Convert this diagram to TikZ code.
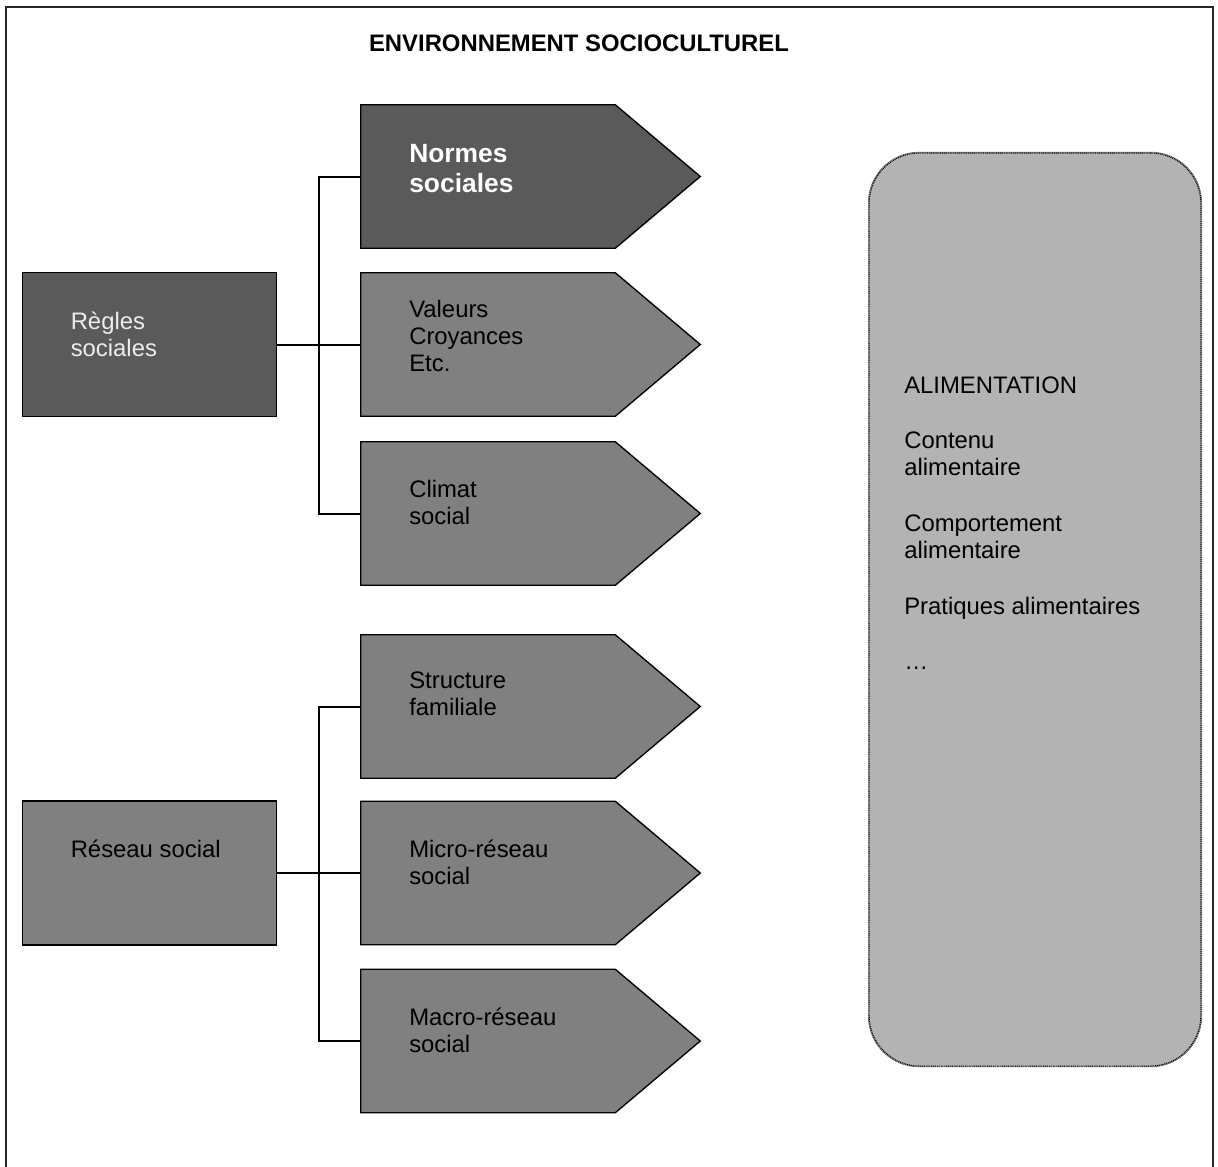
\documentclass[tikz,border=0pt]{standalone}
\usepackage{fontspec}
\setmainfont{Liberation Sans}
\usetikzlibrary{calc}
\definecolor{darkfill}{HTML}{5A5A5A}
\definecolor{midfill}{HTML}{808080}
\definecolor{lightfill}{HTML}{B3B3B3}
\begin{document}
\begin{tikzpicture}[x=0.75pt,y=-0.75pt,
  txt/.style={anchor=base west, inner sep=0pt, align=left, text=black,
    font=\fontsize{17.9}{20.25}\selectfont},
  wtxt/.style={txt, text=white!93!black},
  bigtxt/.style={anchor=base west, inner sep=0pt, align=left, text=white,
    font=\fontsize{19.8}{22.5}\selectfont\bfseries},
  body/.style={draw=none, inner sep=0pt, minimum width=190.5pt, minimum height=107.25pt},
  pent/.style={draw=black, line width=1pt, line join=miter},
  box/.style={draw=black, line width=1pt, inner sep=0pt, minimum width=190.5pt, minimum height=108pt},
  link/.style={draw=black, line width=1.5pt},
]
\useasboundingbox (0,0) rectangle (1218,1167);
% outer frame
\draw[line width=1.2pt, black!85] (6,7) rectangle (1213,1190);
\node[anchor=base, inner sep=0pt, font=\fontsize{17.9}{20}\selectfont\bfseries] (title) at (579,51) {ENVIRONNEMENT SOCIOCULTUREL};

% pentagon bodies (named nodes)
\node[body] (normes) at (488,176.5) {};
\node[body] (valeurs) at (488,344.5) {};
\node[body] (climat) at (488,513.5) {};
\node[body] (structure) at (488,706.5) {};
\node[body] (micro) at (488,873) {};
\node[body] (macro) at (488,1041) {};

\foreach \n/\c in {normes/darkfill, valeurs/midfill, climat/midfill, structure/midfill, micro/midfill, macro/midfill}{
  \filldraw[pent, fill=\c] (\n.north west) -- (\n.north east) -- ($(\n.east)+(85,0)$) -- (\n.south east) -- (\n.south west) -- cycle;
}

% left boxes
\node[box, fill=darkfill] (regles) at (149.5,344.5) {};
\node[box, fill=midfill] (reseau) at (149.5,873) {};

% alimentation box
\node[draw=black, line width=1pt, dash pattern=on 0.8pt off 0.6pt, fill=lightfill,
  rounded corners=38pt, inner sep=0pt, minimum width=249pt, minimum height=685pt] (alim) at (1035,609.5) {};
\draw[black!60, line width=0.5pt, rounded corners=38pt] (alim.north west) rectangle (alim.south east);

% texts (anchor = baseline of last line)
\node[bigtxt] (tnormes) at (409,192) {Normes\\sociales};
\node[txt] (tvaleurs) at (409,371) {Valeurs\\Croyances\\Etc.};
\node[txt] (tclimat) at (409,524.5) {Climat\\social};
\node[txt] (tstructure) at (409,715.5) {Structure\\familiale};
\node[txt] (tmicro) at (409,884) {Micro-réseau\\social};
\node[txt] (tmacro) at (409,1052) {Macro-réseau\\social};
\node[wtxt] (tregles) at (70.5,356) {Règles\\sociales};
\node[txt] (treseau) at (70.5,857) {Réseau social};

\node[txt] (a1) at (904,393.5) {ALIMENTATION};
\node[txt] (a2) at (904,475.5) {Contenu\\alimentaire};
\node[txt] (a3) at (904,558.5) {Comportement\\alimentaire};
\node[txt] (a4) at (904,614) {Pratiques alimentaires};
\node[txt] (a5) at (904,669) {…};

% connectors
\draw[link] (regles.east) -- (valeurs.west);
\draw[link] (normes.west) -- ++(-42,0) |- (climat.west);
\draw[link] (reseau.east) -- (micro.west);
\draw[link] (structure.west) -- ++(-42,0) |- (macro.west);
\end{tikzpicture}
\end{document}
